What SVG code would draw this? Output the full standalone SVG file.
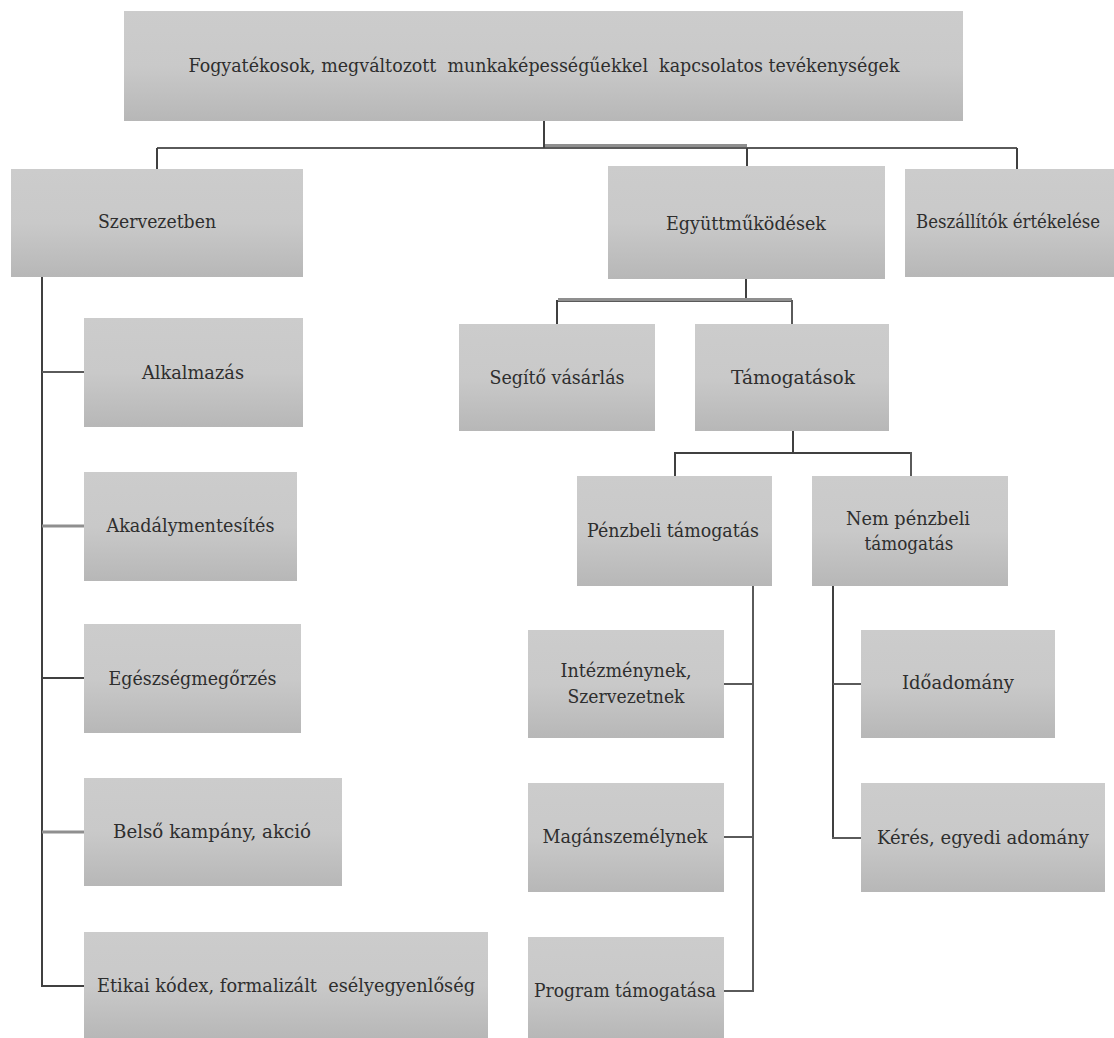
<svg xmlns="http://www.w3.org/2000/svg" width="1114" height="1038" viewBox="0 0 1114 1038">
  <defs>
    <linearGradient id="boxfill" x1="0" y1="0" x2="0" y2="1">
      <stop offset="0" stop-color="#cccccc"/>
      <stop offset="0.5" stop-color="#c9c9c9"/>
      <stop offset="1" stop-color="#b7b7b7"/>
    </linearGradient>
  </defs>
  <style>
    .box { fill: url(#boxfill); }
    .t { font-family: 'DejaVu Serif', serif; font-size: 18px; fill: #2e2e2e; text-anchor: middle; }
    .ln { fill: none; stroke: #404040; stroke-width: 2; }
    .lm { fill: none; stroke: #5a5a5a; stroke-width: 2; }
    .lg { fill: none; stroke: #8f8f8f; stroke-width: 3; }
  </style>
  <rect width="1114" height="1038" fill="#ffffff"/>

  <g id="connectors">
    <path class="lm" d="M157 148 H1017"/>
    <path class="lg" d="M544 145.5 H747"/>
    <path class="ln" d="M544 121 V148"/>
    <path class="ln" d="M157 148 V169"/>
    <path class="ln" d="M747 148 V166"/>
    <path class="ln" d="M1017 148 V169"/>
    <path class="ln" d="M42 277 V987"/>
    <path class="lm" d="M42 372 H84"/>
    <path class="lg" d="M42 526 H84"/>
    <path class="ln" d="M42 678 H84"/>
    <path class="lg" d="M42 832 H84"/>
    <path class="ln" d="M41 986 H84"/>
    <path class="ln" d="M746 279 V301"/>
    <path class="lm" d="M557 301 H792"/>
    <path class="lg" d="M558 299.5 H792"/>
    <path class="ln" d="M557 300 V324"/>
    <path class="lm" d="M792 300 V324"/>
    <path class="ln" d="M793 431 V453"/>
    <path class="ln" d="M675 453 H911"/>
    <path class="ln" d="M675 452 V476"/>
    <path class="lm" d="M911 452 V476"/>
    <path class="lm" d="M753 586 V992"/>
    <path class="lm" d="M724 684 H753"/>
    <path class="lm" d="M724 837 H753"/>
    <path class="lm" d="M724 991 H754"/>
    <path class="ln" d="M833 586 V839"/>
    <path class="lm" d="M833 684 H861"/>
    <path class="lm" d="M832 838 H861"/>
  </g>

  <g id="root">
    <rect class="box" x="124" y="11" width="839" height="110"/>
    <text class="t" x="544" y="72" xml:space="preserve" textLength="711" lengthAdjust="spacingAndGlyphs">Fogyatékosok, megváltozott  munkaképességűekkel  kapcsolatos tevékenységek</text>
  </g>

  <g id="szervezetben">
    <rect class="box" x="11" y="169" width="292" height="108"/>
    <text class="t" x="157" y="228" textLength="118" lengthAdjust="spacingAndGlyphs">Szervezetben</text>
  </g>

  <g id="egyuttmukodesek">
    <rect class="box" x="608" y="166" width="277" height="113"/>
    <text class="t" x="746" y="230" textLength="160" lengthAdjust="spacingAndGlyphs">Együttműködések</text>
  </g>

  <g id="beszallitok">
    <rect class="box" x="905" y="169" width="209" height="108"/>
    <text class="t" x="1008" y="228" textLength="184" lengthAdjust="spacingAndGlyphs">Beszállítók értékelése</text>
  </g>

  <g id="alkalmazas">
    <rect class="box" x="84" y="318" width="219" height="109"/>
    <text class="t" x="193" y="379" textLength="102" lengthAdjust="spacingAndGlyphs">Alkalmazás</text>
  </g>

  <g id="akadalymentesites">
    <rect class="box" x="84" y="472" width="213" height="109"/>
    <text class="t" x="190.5" y="532" textLength="168" lengthAdjust="spacingAndGlyphs">Akadálymentesítés</text>
  </g>

  <g id="egeszsegmegorzes">
    <rect class="box" x="84" y="624" width="217" height="109"/>
    <text class="t" x="192.5" y="685" textLength="168" lengthAdjust="spacingAndGlyphs">Egészségmegőrzés</text>
  </g>

  <g id="belso-kampany">
    <rect class="box" x="84" y="778" width="258" height="108"/>
    <text class="t" x="212" y="838" textLength="198" lengthAdjust="spacingAndGlyphs">Belső kampány, akció</text>
  </g>

  <g id="etikai-kodex">
    <rect class="box" x="84" y="932" width="404" height="106"/>
    <text class="t" x="286" y="992" xml:space="preserve" textLength="378" lengthAdjust="spacingAndGlyphs">Etikai kódex, formalizált  esélyegyenlőség</text>
  </g>

  <g id="segito-vasarlas">
    <rect class="box" x="459" y="324" width="196" height="107"/>
    <text class="t" x="557" y="384" textLength="135" lengthAdjust="spacingAndGlyphs">Segítő vásárlás</text>
  </g>

  <g id="tamogatasok">
    <rect class="box" x="695" y="324" width="194" height="107"/>
    <text class="t" x="793" y="384" textLength="124" lengthAdjust="spacingAndGlyphs">Támogatások</text>
  </g>

  <g id="penzbeli">
    <rect class="box" x="577" y="476" width="195" height="110"/>
    <text class="t" x="673" y="537" textLength="172" lengthAdjust="spacingAndGlyphs">Pénzbeli támogatás</text>
  </g>

  <g id="nem-penzbeli">
    <rect class="box" x="812" y="476" width="196" height="110"/>
    <text class="t" x="908" y="525" textLength="124" lengthAdjust="spacingAndGlyphs">Nem pénzbeli</text>
    <text class="t" x="909" y="550" textLength="89" lengthAdjust="spacingAndGlyphs">támogatás</text>
  </g>

  <g id="intezmenynek">
    <rect class="box" x="528" y="630" width="196" height="108"/>
    <text class="t" x="626" y="677" textLength="131" lengthAdjust="spacingAndGlyphs">Intézménynek,</text>
    <text class="t" x="626" y="703" textLength="117" lengthAdjust="spacingAndGlyphs">Szervezetnek</text>
  </g>

  <g id="maganszemelynek">
    <rect class="box" x="528" y="783" width="196" height="109"/>
    <text class="t" x="625" y="843" textLength="165" lengthAdjust="spacingAndGlyphs">Magánszemélynek</text>
  </g>

  <g id="program-tamogatasa">
    <rect class="box" x="528" y="937" width="196" height="101"/>
    <text class="t" x="625" y="997" textLength="182" lengthAdjust="spacingAndGlyphs">Program támogatása</text>
  </g>

  <g id="idoadomany">
    <rect class="box" x="861" y="630" width="194" height="108"/>
    <text class="t" x="958" y="689" textLength="112" lengthAdjust="spacingAndGlyphs">Időadomány</text>
  </g>

  <g id="keres-egyedi-adomany">
    <rect class="box" x="861" y="783" width="244" height="109"/>
    <text class="t" x="983" y="844" textLength="212" lengthAdjust="spacingAndGlyphs">Kérés, egyedi adomány</text>
  </g>
</svg>
